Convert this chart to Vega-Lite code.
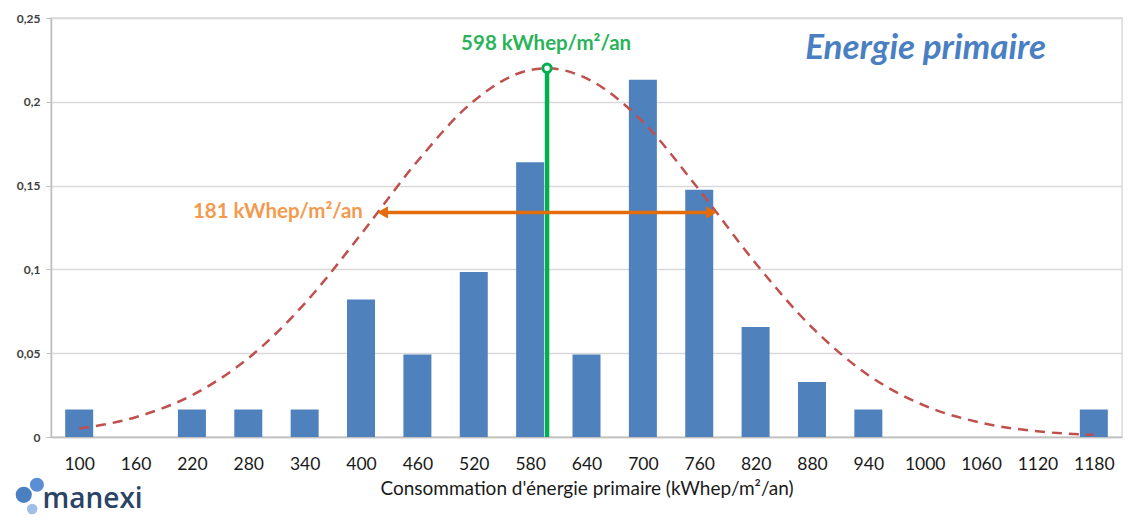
{
  "$schema": "https://vega.github.io/schema/vega-lite/v6.json",
  "autosize": "none",
  "width": 1071,
  "height": 419,
  "padding": {"left": 51, "top": 18, "right": 10, "bottom": 81},
  "background": "white",
  "config": {"view": {"stroke": "#d9d9d9", "strokeWidth": 1.5}, "font": "Lato"},
  "datasets": {
    "bars": [
      {"conso": 100, "part": 0.0164},
      {"conso": 160, "part": 0},
      {"conso": 220, "part": 0.0164},
      {"conso": 280, "part": 0.0164},
      {"conso": 340, "part": 0.0164},
      {"conso": 400, "part": 0.082},
      {"conso": 460, "part": 0.0492},
      {"conso": 520, "part": 0.0984},
      {"conso": 580, "part": 0.1639},
      {"conso": 640, "part": 0.0492},
      {"conso": 700, "part": 0.2131},
      {"conso": 760, "part": 0.1475},
      {"conso": 820, "part": 0.0656},
      {"conso": 880, "part": 0.0328},
      {"conso": 940, "part": 0.0164},
      {"conso": 1000, "part": 0},
      {"conso": 1060, "part": 0},
      {"conso": 1120, "part": 0},
      {"conso": 1180, "part": 0.0164}
    ],
    "curve": [
      {"conso": 100, "densite": 0.005},
      {"conso": 160, "densite": 0.0118},
      {"conso": 220, "densite": 0.0249},
      {"conso": 280, "densite": 0.047},
      {"conso": 340, "densite": 0.0796},
      {"conso": 400, "densite": 0.121},
      {"conso": 460, "densite": 0.1645},
      {"conso": 520, "densite": 0.2005},
      {"conso": 580, "densite": 0.219},
      {"conso": 598, "densite": 0.22},
      {"conso": 640, "densite": 0.214},
      {"conso": 700, "densite": 0.188},
      {"conso": 760, "densite": 0.1474},
      {"conso": 820, "densite": 0.1037},
      {"conso": 880, "densite": 0.0654},
      {"conso": 940, "densite": 0.0369},
      {"conso": 1000, "densite": 0.0187},
      {"conso": 1060, "densite": 0.0085},
      {"conso": 1120, "densite": 0.0034},
      {"conso": 1180, "densite": 0.0013}
    ]
  },
  "layer": [
    {
      "data": {"name": "bars"},
      "mark": {"type": "bar", "width": 28, "color": "#4f81bd"},
      "encoding": {
        "x": {
          "field": "conso",
          "type": "quantitative",
          "scale": {"domain": [70, 1210], "nice": false, "zero": false, "padding": 0},
          "axis": {
            "title": "Consommation d'énergie primaire (kWhep/m²/an)",
            "titleFont": "Lato",
            "titleFontSize": 19,
            "titleFontWeight": "normal",
            "titleColor": "#1a1a1a",
            "titlePadding": 7,
            "values": [100, 130, 160, 190, 220, 250, 280, 310, 340, 370, 400, 430, 460, 490, 520, 550, 580, 610, 640, 670, 700, 730, 760, 790, 820, 850, 880, 910, 940, 970, 1000, 1030, 1060, 1090, 1120, 1150, 1180],
            "labelExpr": "(datum.value - 100) % 60 == 0 ? datum.label : ''",
            "labelOverlap": false,
            "labelFont": "Lato",
            "labelFontSize": 17.5,
            "labelColor": "#1a1a1a",
            "labelPadding": 12,
            "tickSize": 6,
            "tickColor": "#bfbfbf",
            "tickOpacity": {"condition": {"test": "(datum.value - 100) % 60 != 0", "value": 1}, "value": 0},
            "domainColor": "#bfbfbf",
            "domainWidth": 1.5,
            "grid": false,
            "format": "d"
          }
        },
        "y": {
          "field": "part",
          "type": "quantitative",
          "scale": {"domain": [0, 0.25], "nice": false},
          "axis": {
            "title": null,
            "values": [0, 0.05, 0.1, 0.15, 0.2, 0.25],
            "labelExpr": "replace(toString(datum.value), '.', ',')",
            "labelFont": "Lato",
            "labelFontSize": 12,
            "labelFontWeight": "bold",
            "labelColor": "#404040",
            "labelPadding": 6,
            "tickSize": 5,
            "tickColor": "#bfbfbf",
            "domainColor": "#bfbfbf",
            "domainWidth": 1.5,
            "gridColor": "#d9d9d9",
            "gridWidth": 1.5
          }
        }
      }
    },
    {
      "data": {"name": "curve"},
      "mark": {"type": "line", "color": "#c0504d", "strokeWidth": 2.5, "strokeDash": [10, 7], "interpolate": "monotone"},
      "encoding": {
        "x": {"field": "conso", "type": "quantitative"},
        "y": {"field": "densite", "type": "quantitative"}
      }
    },
    {
      "data": {"values": [{"moyenne": 598, "bas": 0, "haut": 0.22}]},
      "mark": {"type": "rule", "color": "#00b050", "strokeWidth": 4.5},
      "encoding": {
        "x": {"field": "moyenne", "type": "quantitative"},
        "y": {"field": "bas", "type": "quantitative"},
        "y2": {"field": "haut"}
      }
    },
    {
      "data": {"values": [{"moyenne": 598, "haut": 0.22}]},
      "mark": {"type": "point", "shape": "circle", "filled": true, "fill": "white", "stroke": "#00b050", "strokeWidth": 3, "size": 70, "opacity": 1},
      "encoding": {
        "x": {"field": "moyenne", "type": "quantitative"},
        "y": {"field": "haut", "type": "quantitative"}
      }
    },
    {
      "data": {"values": [{"debut": 425, "fin": 770, "niveau": 0.134}]},
      "mark": {"type": "rule", "color": "#e46c0a", "strokeWidth": 3.5},
      "encoding": {
        "x": {"field": "debut", "type": "quantitative"},
        "x2": {"field": "fin"},
        "y": {"field": "niveau", "type": "quantitative"}
      }
    },
    {
      "data": {"values": [{"pos": 423, "niveau": 0.134, "sens": "triangle-left"}, {"pos": 773, "niveau": 0.134, "sens": "triangle-right"}]},
      "mark": {"type": "point", "filled": true, "color": "#e46c0a", "size": 150, "opacity": 1},
      "encoding": {
        "x": {"field": "pos", "type": "quantitative"},
        "y": {"field": "niveau", "type": "quantitative"},
        "shape": {"field": "sens", "type": "nominal", "scale": null, "legend": null}
      }
    },
    {
      "data": {"values": [{"pos": 597, "niveau": 0.2345, "texte": "598 kWhep/m²/an"}]},
      "mark": {"type": "text", "color": "#2bb35a", "font": "Lato", "fontSize": 20.5, "fontWeight": "bold", "align": "center", "baseline": "middle"},
      "encoding": {
        "x": {"field": "pos", "type": "quantitative"},
        "y": {"field": "niveau", "type": "quantitative"},
        "text": {"field": "texte"}
      }
    },
    {
      "data": {"values": [{"pos": 402, "niveau": 0.134, "texte": "181 kWhep/m²/an"}]},
      "mark": {"type": "text", "color": "#f39a4e", "font": "Lato", "fontSize": 20.5, "fontWeight": "bold", "align": "right", "baseline": "middle"},
      "encoding": {
        "x": {"field": "pos", "type": "quantitative"},
        "y": {"field": "niveau", "type": "quantitative"},
        "text": {"field": "texte"}
      }
    },
    {
      "data": {"values": [{"pos": 1001, "niveau": 0.232, "texte": "Energie primaire"}]},
      "mark": {"type": "text", "color": "#4a7fc1", "font": "Lato", "fontSize": 35, "fontWeight": "bold", "fontStyle": "italic", "align": "center", "baseline": "middle"},
      "encoding": {
        "x": {"field": "pos", "type": "quantitative"},
        "y": {"field": "niveau", "type": "quantitative"},
        "text": {"field": "texte"}
      }
    },
    {
      "data": {"values": [{"pos": 41, "niveau": -0.0345, "taille": 260, "teinte": "a"}, {"pos": 55, "niveau": -0.0285, "taille": 200, "teinte": "b"}, {"pos": 50, "niveau": -0.043, "taille": 110, "teinte": "c"}]},
      "mark": {"type": "point", "filled": true, "opacity": 1, "shape": "circle"},
      "encoding": {
        "x": {"field": "pos", "type": "quantitative"},
        "y": {"field": "niveau", "type": "quantitative"},
        "size": {"field": "taille", "type": "quantitative", "scale": null, "legend": null},
        "color": {"field": "teinte", "type": "nominal", "scale": {"domain": ["a", "b", "c"], "range": ["#4a7fc1", "#5b8fd4", "#9fbfe6"]}, "legend": null}
      }
    },
    {
      "data": {"values": [{"pos": 61, "niveau": -0.0375, "texte": "manexi"}]},
      "mark": {"type": "text", "color": "#2b4466", "font": "Open Sans", "fontSize": 28, "fontWeight": 600, "align": "left", "baseline": "middle"},
      "encoding": {
        "x": {"field": "pos", "type": "quantitative"},
        "y": {"field": "niveau", "type": "quantitative"},
        "text": {"field": "texte"}
      }
    }
  ]
}
